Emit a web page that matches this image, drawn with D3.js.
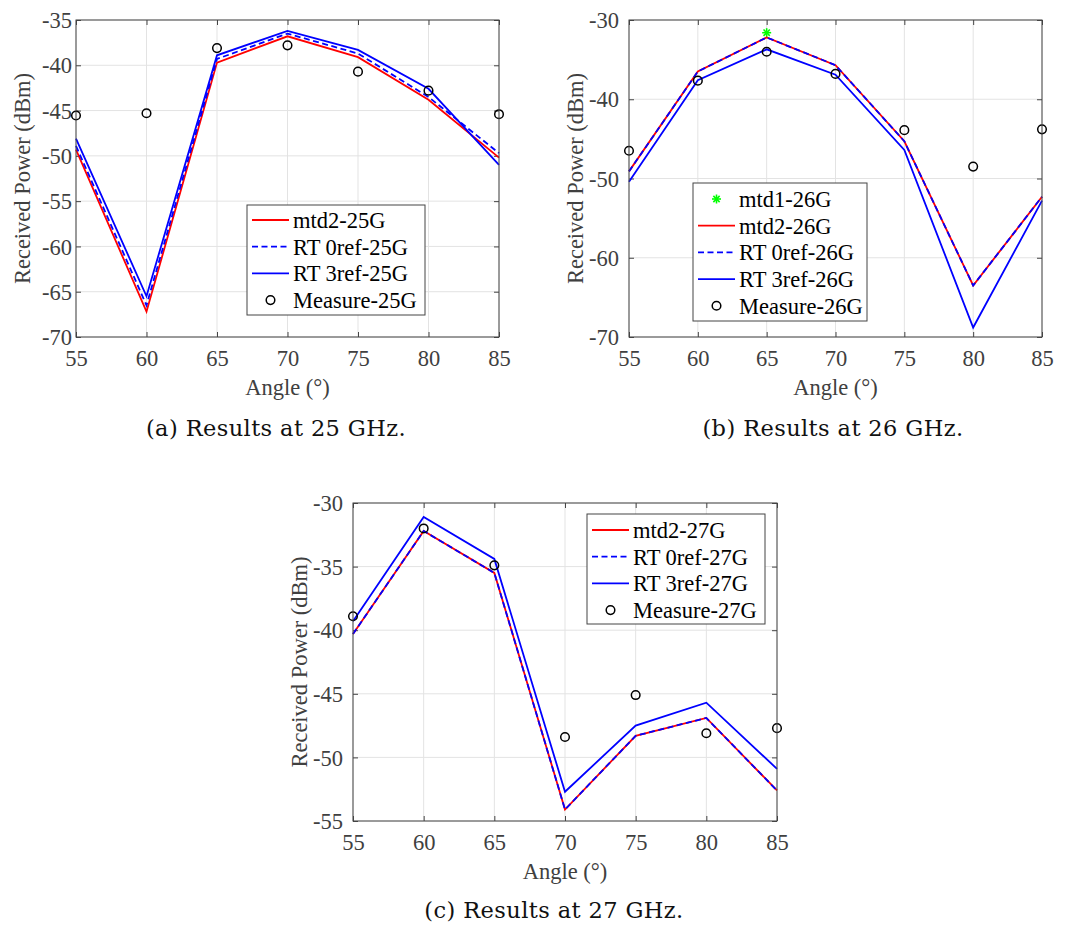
<!DOCTYPE html>
<html>
<head>
<meta charset="utf-8">
<script src="https://cdn.jsdelivr.net/npm/d3@7"></script>
<style>
  html, body { margin: 0; padding: 0; background: #fff; }
  svg { display: block; }
</style>
</head>
<body>
<svg id="fig" width="1065" height="925"></svg>
<script>
// Incidence angles (degrees)
const angles = [55, 60, 65, 70, 75, 80, 85];

// 25 GHz received power (dBm)
const mtd2_25G = [-49.3, -67.2, -39.7, -36.8, -39.1, -43.8, -50.2];
const rt0_25G  = [-48.9, -66.5, -39.3, -36.5, -38.7, -43.5, -49.7];
const rt3_25G  = [-48.1, -65.5, -38.9, -36.2, -38.3, -42.6, -51.0];
const meas_25G = [-45.55, -45.3, -38.1, -37.8, -40.7, -42.8, -45.4];

// 26 GHz received power (dBm)
const mtd1_26G_angle = [65];
const mtd1_26G = [-31.6];
const mtd2_26G = [-49.1, -36.5, -32.2, -35.7, -45.3, -63.5, -52.3];
const rt0_26G  = [-49.1, -36.5, -32.2, -35.7, -45.3, -63.5, -52.3];
const rt3_26G  = [-50.4, -37.6, -33.7, -36.9, -46.4, -68.8, -52.8];
const meas_26G = [-46.5, -37.65, -34.0, -36.8, -43.9, -48.5, -43.8];

// 27 GHz received power (dBm)
const mtd2_27G = [-40.3, -32.2, -35.5, -54.1, -48.3, -46.9, -52.6];
const rt0_27G  = [-40.3, -32.2, -35.5, -54.1, -48.3, -46.9, -52.6];
const rt3_27G  = [-39.3, -31.1, -34.4, -52.7, -47.5, -45.7, -50.9];
const meas_27G = [-38.9, -32.0, -34.9, -48.4, -45.1, -48.1, -47.7];

// Axis ticks
const xTicks = [55, 60, 65, 70, 75, 80, 85];
const yTicks25 = [-70, -65, -60, -55, -50, -45, -40, -35];
const yTicks26 = [-70, -60, -50, -40, -30];
const yTicks27 = [-55, -50, -45, -40, -35, -30];

const svg = d3.select("#fig");
const axisFont = "'Liberation Serif', 'Times New Roman', serif";
const capFont = "'DejaVu Serif', serif";
const axisGray = "#404040";

function drawStar(sel, cx, cy) {
  const s = 4.5;
  [[-s, 0, s, 0], [0, -s, 0, s], [-s * 0.7, -s * 0.7, s * 0.7, s * 0.7], [-s * 0.7, s * 0.7, s * 0.7, -s * 0.7]]
    .forEach(c => sel.append("line")
      .attr("x1", cx + c[0]).attr("y1", cy + c[1]).attr("x2", cx + c[2]).attr("y2", cy + c[3])
      .attr("stroke", "#00ff00").attr("stroke-width", 1.6));
}

function drawPanel(cfg) {
  const g = svg.append("g");
  const { left, top, width, height } = cfg.box;
  const x = d3.scaleLinear().domain([55, 85]).range([left, left + width]);
  const y = d3.scaleLinear().domain(cfg.yDomain).range([top + height, top]);

  // grid
  g.append("g").selectAll("line").data(xTicks).join("line")
    .attr("x1", d => x(d)).attr("x2", d => x(d))
    .attr("y1", top).attr("y2", top + height)
    .attr("stroke", "#e3e3e3").attr("stroke-width", 1);
  g.append("g").selectAll("line").data(cfg.yTicks).join("line")
    .attr("y1", d => y(d)).attr("y2", d => y(d))
    .attr("x1", left).attr("x2", left + width)
    .attr("stroke", "#e3e3e3").attr("stroke-width", 1);

  // axes with inward ticks on all four sides
  const tk = 5;
  const bottomAx = d3.axisBottom(x).tickValues(xTicks).tickSize(-tk).tickFormat(d3.format("d"));
  const topAx = d3.axisTop(x).tickValues(xTicks).tickSize(-tk).tickFormat("");
  const leftAx = d3.axisLeft(y).tickValues(cfg.yTicks).tickSize(-tk).tickPadding(cfg.yPad).tickFormat(d => String(d));
  const rightAx = d3.axisRight(y).tickValues(cfg.yTicks).tickSize(-tk).tickFormat("");

  function style(sel) {
    sel.select(".domain").remove();
    sel.selectAll(".tick line").attr("stroke", "#444").attr("stroke-width", 1);
    sel.selectAll(".tick text").attr("fill", axisGray)
      .style("font-family", axisFont).style("font-size", "22.5px");
  }
  g.append("g").attr("transform", `translate(0,${top + height})`).call(bottomAx).call(style)
    .selectAll(".tick text").attr("dy", "0.71em").attr("y", 13);
  g.append("g").attr("transform", `translate(0,${top})`).call(topAx).call(style);
  g.append("g").attr("transform", `translate(${left},0)`).call(leftAx).call(style)
    .selectAll(".tick text").attr("dy", "0.34em");
  g.append("g").attr("transform", `translate(${left + width},0)`).call(rightAx).call(style);

  // series
  const line = d3.line().x((d, i) => x(angles[i])).y(d => y(d));
  const plotArea = g.append("g");
  if (cfg.mtd1) {
    cfg.mtd1.forEach((d, i) => drawStar(plotArea, x(cfg.mtd1Angle[i]), y(d)));
  }
  plotArea.append("path").datum(cfg.mtd2).attr("d", line)
    .attr("fill", "none").attr("stroke", "#ff0000").attr("stroke-width", 1.8);
  plotArea.append("path").datum(cfg.rt0).attr("d", line)
    .attr("fill", "none").attr("stroke", "#0000ff").attr("stroke-width", 1.8).attr("stroke-dasharray", "6,3.5");
  plotArea.append("path").datum(cfg.rt3).attr("d", line)
    .attr("fill", "none").attr("stroke", "#0000ff").attr("stroke-width", 1.8);
  plotArea.append("g").selectAll("circle").data(cfg.meas).join("circle")
    .attr("cx", (d, i) => x(angles[i])).attr("cy", d => y(d)).attr("r", 4.3)
    .attr("fill", "none").attr("stroke", "#000").attr("stroke-width", 1.5);

  // frame
  g.append("rect").attr("x", left).attr("y", top).attr("width", width).attr("height", height)
    .attr("fill", "none").attr("stroke", "#444").attr("stroke-width", 1);

  // axis labels
  g.append("text").attr("x", left + width / 2).attr("y", top + height + 58)
    .attr("text-anchor", "middle").attr("fill", axisGray)
    .style("font-family", axisFont).style("font-size", "22.5px").text("Angle (°)");
  g.append("text")
    .attr("transform", `translate(${left - 46},${top + height / 2}) rotate(-90)`)
    .attr("text-anchor", "middle").attr("fill", axisGray)
    .style("font-family", axisFont).style("font-size", "22.5px").text("Received Power (dBm)");

  // legend
  const L = cfg.legend;
  const lg = g.append("g");
  lg.append("rect").attr("x", L.x).attr("y", L.y).attr("width", L.w).attr("height", L.h)
    .attr("fill", "#fff").attr("stroke", "#444").attr("stroke-width", 1);
  L.items.forEach((it, i) => {
    const cy = L.y + L.first + i * L.step;
    const x0 = L.x + 5, x1 = L.x + 42;
    if (it.type === "line") {
      lg.append("line").attr("x1", x0).attr("x2", x1).attr("y1", cy).attr("y2", cy)
        .attr("stroke", it.color).attr("stroke-width", 1.8)
        .attr("stroke-dasharray", it.dash ? "6,3.5" : null);
    } else if (it.type === "circle") {
      lg.append("circle").attr("cx", (x0 + x1) / 2).attr("cy", cy).attr("r", 4.3)
        .attr("fill", "none").attr("stroke", "#000").attr("stroke-width", 1.5);
    } else if (it.type === "star") {
      drawStar(lg, (x0 + x1) / 2, cy);
    }
    lg.append("text").attr("x", L.x + 46).attr("y", cy).attr("dy", "0.35em")
      .attr("fill", "#000").style("font-family", axisFont).style("font-size", "22.5px").text(it.label);
  });

  // caption
  svg.append("text").attr("x", cfg.caption.x).attr("y", cfg.caption.y)
    .attr("text-anchor", "middle").attr("fill", "#111")
    .style("font-family", capFont).style("font-size", "22.5px").style("letter-spacing", "0.4px")
    .text(cfg.caption.text);
}

function items(f, withMtd1) {
  const arr = [];
  if (withMtd1) arr.push({ type: "star", label: `mtd1-${f}` });
  arr.push({ type: "line", color: "#ff0000", label: `mtd2-${f}` });
  arr.push({ type: "line", color: "#0000ff", dash: true, label: `RT 0ref-${f}` });
  arr.push({ type: "line", color: "#0000ff", label: `RT 3ref-${f}` });
  arr.push({ type: "circle", label: `Measure-${f}` });
  return arr;
}

drawPanel({
  box: { left: 76, top: 20, width: 423, height: 317 },
  yDomain: [-70, -35], yTicks: yTicks25, yPad: 4,
  mtd2: mtd2_25G, rt0: rt0_25G, rt3: rt3_25G, meas: meas_25G,
  legend: { x: 247, y: 205, w: 178, h: 110, first: 15, step: 26.7, items: items("25G", false) },
  caption: { x: 276, y: 436, text: "(a) Results at 25 GHz." }
});

drawPanel({
  box: { left: 629, top: 20, width: 413, height: 317 },
  yDomain: [-70, -30], yTicks: yTicks26, yPad: 10,
  mtd1: mtd1_26G, mtd1Angle: mtd1_26G_angle,
  mtd2: mtd2_26G, rt0: rt0_26G, rt3: rt3_26G, meas: meas_26G,
  legend: { x: 693, y: 183, w: 174, h: 138, first: 16, step: 26.7, items: items("26G", true) },
  caption: { x: 833, y: 436, text: "(b) Results at 26 GHz." }
});

drawPanel({
  box: { left: 353, top: 503, width: 424, height: 318 },
  yDomain: [-55, -30], yTicks: yTicks27, yPad: 10,
  mtd2: mtd2_27G, rt0: rt0_27G, rt3: rt3_27G, meas: meas_27G,
  legend: { x: 587, y: 514, w: 178, h: 110, first: 16, step: 26.7, items: items("27G", false) },
  caption: { x: 554, y: 918, text: "(c) Results at 27 GHz." }
});
</script>
</body>
</html>
